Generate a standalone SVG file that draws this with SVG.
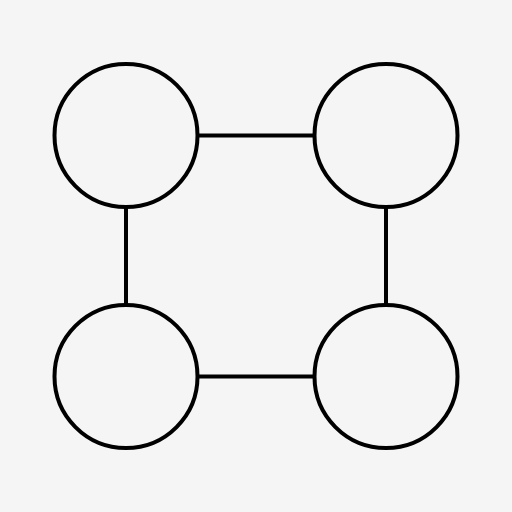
<svg xmlns="http://www.w3.org/2000/svg" width="512" height="512" viewBox="0 0 512 512">
<style>
.n{fill:none;stroke:#000;stroke-width:4}
.c{stroke:#000;stroke-width:4;fill:none}
</style>
<rect width="512" height="512" fill="#f5f5f5"/>
<g id="connectors">
<line class="c" x1="197.5" y1="135.5" x2="314" y2="135.5"/>
<line class="c" x1="197.5" y1="376.5" x2="314" y2="376.5"/>
<line class="c" x1="126" y1="207" x2="126" y2="305"/>
<line class="c" x1="386" y1="207" x2="386" y2="305"/>
</g>
<g id="node-tl"><circle class="n" cx="126" cy="135.5" r="71.5"/></g>
<g id="node-tr"><circle class="n" cx="386" cy="135.5" r="71.5"/></g>
<g id="node-bl"><circle class="n" cx="126" cy="376.5" r="71.5"/></g>
<g id="node-br"><circle class="n" cx="386" cy="376.5" r="71.5"/></g>
</svg>
